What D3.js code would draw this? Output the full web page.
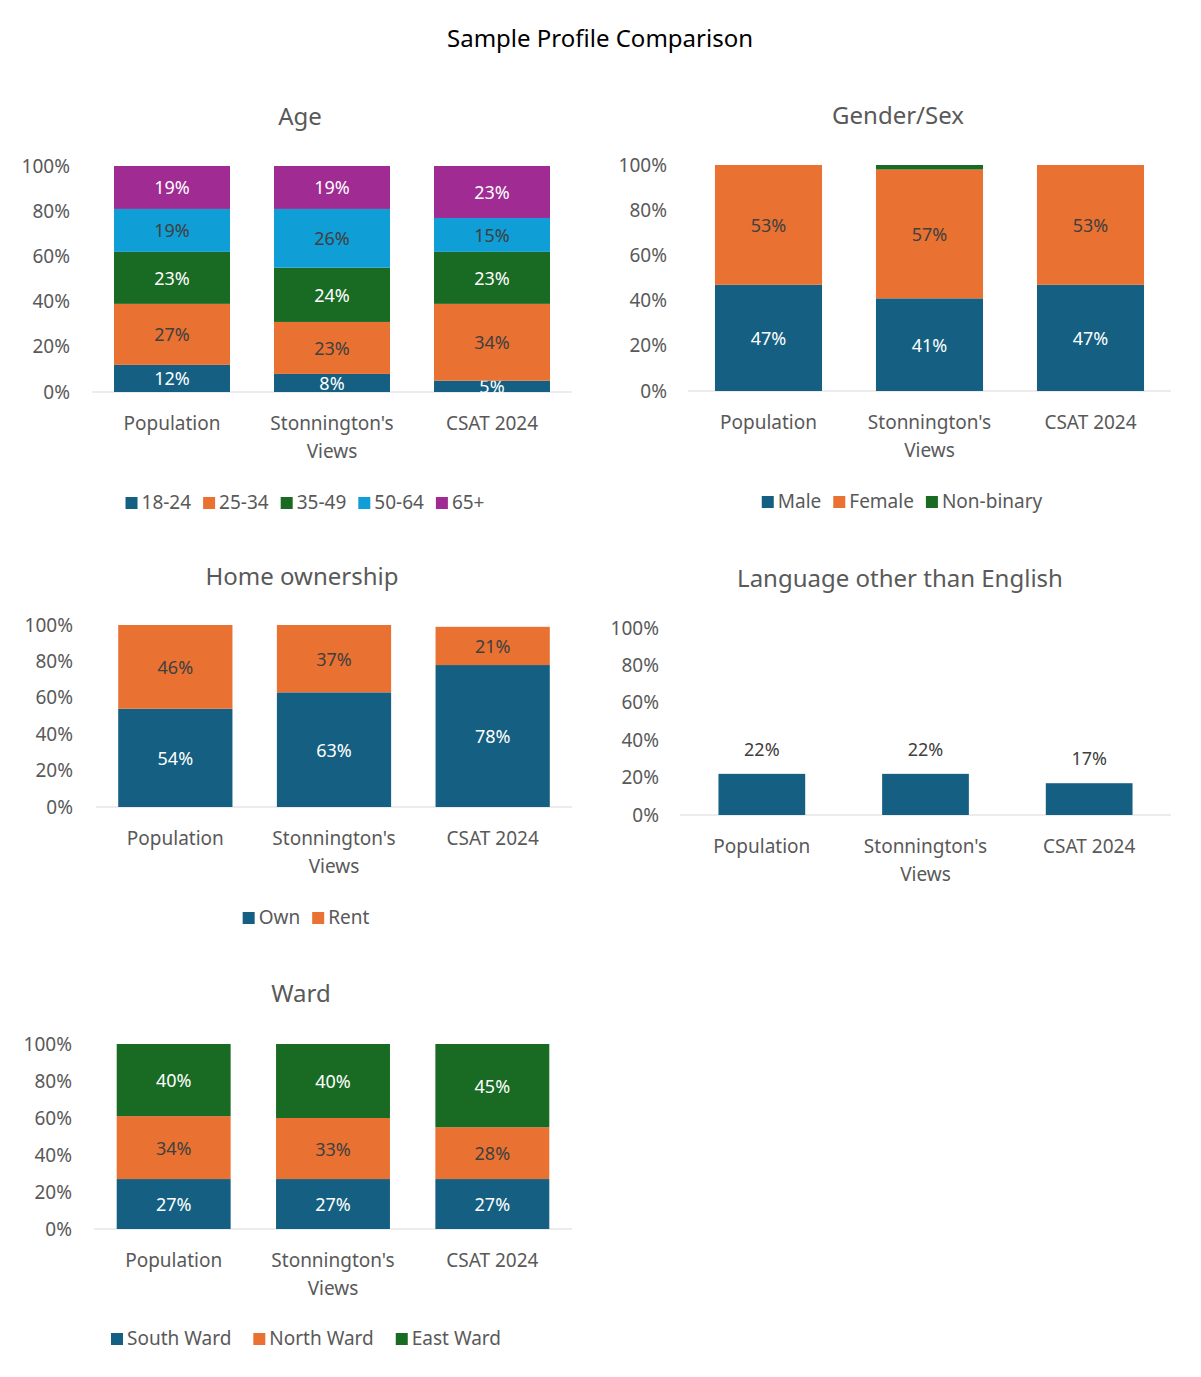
<!DOCTYPE html>
<html><head><meta charset="utf-8">
<script src="https://cdn.jsdelivr.net/npm/d3@7"></script>
<style>body{margin:0;background:#fff}text{font-family:"Noto Sans",sans-serif}</style>
</head><body>
<svg id="c" width="1201" height="1377"></svg>
<script>
const categories = ["Population", "Stonnington's\nViews", "CSAT 2024"];
const yTicks = [0, 20, 40, 60, 80, 100];
const ageSeries = ["18-24", "25-34", "35-49", "50-64", "65+"];
const ageValues = [[12, 8, 5], [27, 23, 34], [23, 24, 23], [19, 26, 15], [19, 19, 23]];
const genderSeries = ["Male", "Female", "Non-binary"];
const genderValues = [[47, 41, 47], [53, 57, 53], [0, 2, 0]];
const homeSeries = ["Own", "Rent"];
const homeValues = [[54, 63, 78], [46, 37, 21]];
const langValues = [22, 22, 17];
const wardSeries = ["South Ward", "North Ward", "East Ward"];
const wardValues = [[27, 27, 27], [34, 33, 28], [40, 40, 45]];

const C = {blue:"#156082", orange:"#E97132", green:"#196B24", cyan:"#0F9ED5", purple:"#A02B93"};
const TXT = "#595959";
const svg = d3.select("#c");
svg.append("text").attr("x",600).attr("y",47).attr("text-anchor","middle")
  .attr("font-size",24).attr("fill","#000").text("Sample Profile Comparison");

function chart(o){
  const g = svg.append("g");
  g.append("text").attr("x",o.tx).attr("y",o.ty).attr("text-anchor","middle")
    .attr("font-size",24).attr("fill",TXT).text(o.title);
  const y = d3.scaleLinear().domain([0,100]).range([o.y0,o.y1]);
  const x = d3.scaleBand().domain(categories).range([o.xl,o.xr]).paddingInner(o.pad).paddingOuter(o.pad/2);
  const ax = g.append("g").attr("transform",`translate(${o.tickX},0)`)
    .call(d3.axisLeft(y).tickValues(yTicks).tickFormat(d=>d+"%").tickSize(0).tickPadding(0));
  ax.select(".domain").remove();
  ax.selectAll("text").attr("font-size",19).attr("fill",TXT).attr("font-family","Noto Sans");
  g.append("line").attr("x1",o.xl).attr("x2",o.xr).attr("y1",o.y0).attr("y2",o.y0).attr("stroke","#d9d9d9");
  const stacks = o.values;
  categories.forEach((c,ci)=>{
    let acc=0;
    stacks.forEach((s,si)=>{
      const v=s[ci]; if(!v){return;}
      const top=acc+v;
      g.append("rect").attr("x",x(c)).attr("width",x.bandwidth())
        .attr("y",y(Math.min(top,100))).attr("height",y(acc)-y(Math.min(top,100))).attr("fill",o.colors[si]);
      if(o.labels!==false && v>=3){
        const dark = o.colors[si]===C.orange||o.colors[si]===C.cyan;
        g.append("text").attr("x",x(c)+x.bandwidth()/2).attr("y",(y(acc)+y(Math.min(top,100)))/2+7)
          .attr("text-anchor","middle").attr("font-size",18).attr("fill",dark?"#404040":"#fff").text(v+"%");
      }
      if(o.above){
        g.append("text").attr("x",x(c)+x.bandwidth()/2).attr("y",y(top)-18)
          .attr("text-anchor","middle").attr("font-size",18).attr("fill","#404040").text(v+"%");
      }
      acc=top;
    });
    c.split("\n").forEach((l,li)=>g.append("text").attr("x",x(c)+x.bandwidth()/2).attr("y",o.y0+38+li*28)
      .attr("text-anchor","middle").attr("font-size",19).attr("fill",TXT).text(l));
  });
  if(o.series){
    const lg=g.append("g");
    let cx=0;
    o.series.forEach((s,i)=>{
      lg.append("rect").attr("x",cx).attr("y",-12).attr("width",12).attr("height",12).attr("fill",o.colors[i]);
      const t=lg.append("text").attr("x",cx+16).attr("y",0).attr("font-size",19).attr("fill",TXT).text(s);
      cx+=16+t.node().getComputedTextLength()+o.gap;
    });
    const w=cx-o.gap;
    lg.attr("transform",`translate(${o.lx-w/2},${o.ly})`);
  }
}
chart({title:"Age",tx:300,ty:125,y0:392,y1:166,xl:92,xr:572,tickX:70,pad:0.275,values:ageValues,
  colors:[C.blue,C.orange,C.green,C.cyan,C.purple],series:ageSeries,lx:305,ly:509,gap:12});
chart({title:"Gender/Sex",tx:898,ty:124,y0:391,y1:165,xl:688,xr:1171,tickX:667,pad:0.335,values:genderValues,
  colors:[C.blue,C.orange,C.green],series:genderSeries,lx:902,ly:508,gap:12});
chart({title:"Home ownership",tx:302,ty:585,y0:807,y1:625,xl:96,xr:572,tickX:73,pad:0.28,values:homeValues,
  colors:[C.blue,C.orange],series:homeSeries,lx:306,ly:924,gap:12});
chart({title:"Language other than English",tx:900,ty:587,y0:815,y1:628,xl:680,xr:1171,tickX:659,pad:0.47,values:[langValues],
  colors:[C.blue],labels:false,above:true});
chart({title:"Ward",tx:301,ty:1002,y0:1229,y1:1044,xl:94,xr:572,tickX:72,pad:0.285,values:wardValues,
  colors:[C.blue,C.orange,C.green],series:wardSeries,lx:306,ly:1345,gap:22});
</script>
</body></html>
